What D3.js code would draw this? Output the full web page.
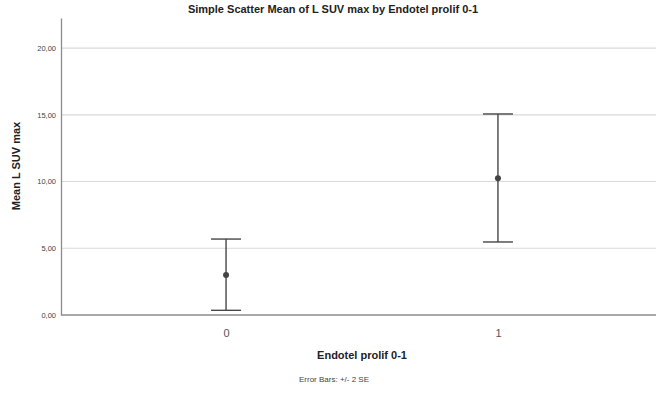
<!DOCTYPE html>
<html>
<head>
<meta charset="utf-8">
<script src="https://cdn.jsdelivr.net/npm/d3@7"></script>
<style>
  body { margin: 0; background: #fff; }
  svg { display: block; font-family: Arial, "Liberation Sans", sans-serif; }
</style>
</head>
<body>
<div id="chart"></div>
<script>
// dados
var categorias = ["0", "1"];
var medias = [3.0, 10.24];
var limiteSup = [5.69, 15.06];
var limiteInf = [0.35, 5.47];
var yTicks = [0, 5, 10, 15, 20];

var width = 656, height = 394;
var margin = {top: 18, right: -7, bottom: 79, left: 61};

var svg = d3.select("#chart").append("svg")
  .attr("width", width).attr("height", height);

// escalas
var x = d3.scalePoint()
  .domain(categorias)
  .range([margin.left, width - margin.right])
  .padding(0.607);

var y = d3.scaleLinear()
  .domain([0, 22.25])
  .range([height - margin.bottom, margin.top]);

// linhas de grade
svg.append("g").selectAll("line").data(yTicks.filter(function(d){ return d > 0; }))
  .enter().append("line")
  .attr("x1", margin.left).attr("x2", width)
  .attr("y1", function(d){ return y(d); }).attr("y2", function(d){ return y(d); })
  .attr("stroke", "#d9d9d9").attr("stroke-width", 1.2);

// eixo Y
var fmt = function(d){ return d3.format(".2f")(d).replace(".", ","); };
var eixoY = svg.append("g")
  .attr("transform", "translate(" + margin.left + ",0)")
  .call(d3.axisLeft(y).tickValues(yTicks).tickFormat(fmt).tickSize(0).tickPadding(5));
eixoY.select(".domain").attr("stroke", "#8c8c8c").attr("stroke-width", 1.3);
eixoY.selectAll("text").attr("font-size", "7.5px").attr("fill", "#444");

// eixo X
var eixoX = svg.append("g")
  .attr("transform", "translate(0," + y(0) + ")")
  .call(d3.axisBottom(x).tickSize(0).tickPadding(14));
eixoX.select(".domain").attr("d", "M" + margin.left + ",0H" + width)
  .attr("stroke", "#8c8c8c").attr("stroke-width", 1.3);
eixoX.selectAll("text").attr("font-size", "11px").attr("fill", "#555");

// barras de erro
var capW = 15;
var grupo = svg.append("g").selectAll("g").data(categorias).enter().append("g");
grupo.append("line")
  .attr("x1", function(d){ return x(d); }).attr("x2", function(d){ return x(d); })
  .attr("y1", function(d, i){ return y(limiteSup[i]); })
  .attr("y2", function(d, i){ return y(limiteInf[i]); })
  .attr("stroke", "#474747").attr("stroke-width", 1.4);
grupo.append("line")
  .attr("x1", function(d){ return x(d) - capW; }).attr("x2", function(d){ return x(d) + capW; })
  .attr("y1", function(d, i){ return y(limiteSup[i]); })
  .attr("y2", function(d, i){ return y(limiteSup[i]); })
  .attr("stroke", "#474747").attr("stroke-width", 1.4);
grupo.append("line")
  .attr("x1", function(d){ return x(d) - capW; }).attr("x2", function(d){ return x(d) + capW; })
  .attr("y1", function(d, i){ return y(limiteInf[i]); })
  .attr("y2", function(d, i){ return y(limiteInf[i]); })
  .attr("stroke", "#474747").attr("stroke-width", 1.4);
grupo.append("circle")
  .attr("cx", function(d){ return x(d); })
  .attr("cy", function(d, i){ return y(medias[i]); })
  .attr("r", 3).attr("fill", "#444");

// textos
svg.append("text").attr("x", 333).attr("y", 13).attr("text-anchor", "middle")
  .attr("font-size", "11px").attr("font-weight", "bold").attr("fill", "#222")
  .text("Simple Scatter Mean of L SUV max by Endotel prolif 0-1");
svg.append("text").attr("transform", "translate(20,166) rotate(-90)")
  .attr("text-anchor", "middle").attr("font-size", "11px").attr("font-weight", "bold").attr("fill", "#222")
  .text("Mean L SUV max");
svg.append("text").attr("x", 362).attr("y", 359).attr("text-anchor", "middle")
  .attr("font-size", "11px").attr("font-weight", "bold").attr("fill", "#222")
  .text("Endotel prolif 0-1");
svg.append("text").attr("x", 334).attr("y", 382).attr("text-anchor", "middle")
  .attr("font-size", "8px").attr("fill", "#444")
  .text("Error Bars: +/- 2 SE");
</script>
</body>
</html>
